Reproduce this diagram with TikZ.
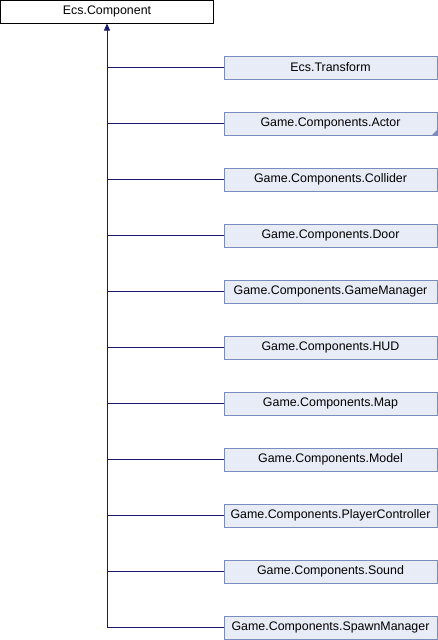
\documentclass[tikz,border=0pt]{standalone}
\usepackage{fontspec}
\setmainfont{Liberation Sans}
\usetikzlibrary{arrows.meta}
\definecolor{edgeblue}{HTML}{191970}
\definecolor{boxfill}{HTML}{E8ECF6}
\definecolor{boxdraw}{HTML}{7A8CBE}
\begin{document}
\begin{tikzpicture}[x=1pt,y=-1pt,
  basebox/.style={draw=black,fill=white,line width=1pt,minimum width=213pt,minimum height=23pt,inner sep=0pt,font=\fontsize{12.4}{14}\selectfont},
  childbox/.style={draw=boxdraw,fill=boxfill,line width=1pt,minimum width=213pt,minimum height=23pt,inner sep=0pt,font=\fontsize{12.4}{14}\selectfont},
  link/.style={draw=edgeblue,line width=1pt}]
\useasboundingbox (0,0) rectangle (438,640);
\node[basebox] (base) at (107,11.5) {Ecs.Component};
\coordinate (bottom) at (107,628);
\foreach \i/\t in {0/Ecs.Transform,1/Game.Components.Actor,2/Game.Components.Collider,3/Game.Components.Door,4/Game.Components.GameManager,5/Game.Components.HUD,6/Game.Components.Map,7/Game.Components.Model,8/Game.Components.PlayerController,9/Game.Components.Sound,10/Game.Components.SpawnManager}{
  \node[childbox] (c\i) at (330.5,67.5+56*\i) {\t};
  \coordinate (j\i) at (107,67.5+56*\i);
  \draw[link] (j\i) -- (c\i.west);
}
\fill[boxdraw] (c1.south east) -- ++(0,-6) -- ++(-6,6) -- cycle;
\draw[link,-{Triangle[length=7pt,width=6pt]}] (bottom) -- (base.south);
\end{tikzpicture}
\end{document}
